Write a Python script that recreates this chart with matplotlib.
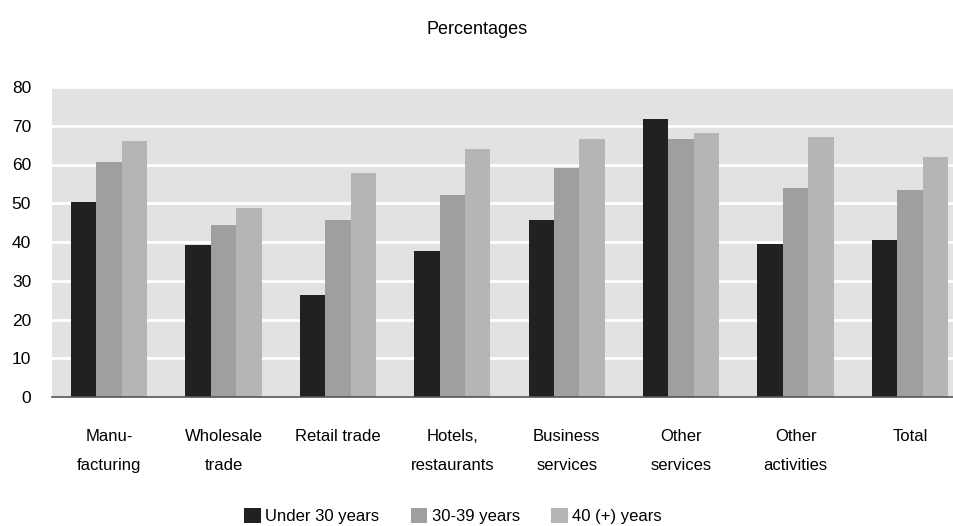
import numpy as np
import matplotlib.pyplot as plt

# Data
categories = ["Manu-\nfacturing", "Wholesale\ntrade", "Retail trade", "Hotels,\nrestaurants",
              "Business\nservices", "Other\nservices", "Other\nactivities", "Total"]
under_30 = [50.3, 39.2, 26.4, 37.7, 45.7, 71.7, 39.5, 40.5]
age_30_39 = [60.6, 44.4, 45.7, 52.1, 59.1, 66.5, 53.9, 53.4]
age_40_plus = [66.0, 48.8, 57.8, 63.9, 66.5, 68.1, 67.0, 61.9]
series_names = ["Under 30 years", "30-39 years", "40 (+) years"]
colors = ["#212121", "#9f9f9f", "#b5b5b5"]

plt.rcParams['font.family'] = ['Liberation Sans', 'DejaVu Sans']

fig = plt.figure(figsize=(9.54, 5.26), dpi=100)
ax = fig.add_axes([52 / 954, 1 - 397 / 526, 902 / 954, 310 / 526])
ax.set_facecolor("#e2e2e2")

x = np.arange(len(categories))
w = 0.222
for i, (vals, name, c) in enumerate(zip([under_30, age_30_39, age_40_plus], series_names, colors)):
    ax.bar(x + (i - 1) * w, vals, width=w, color=c, label=name, zorder=3)

ax.set_ylim(0, 80)
ax.set_xlim(-0.5, 7.385)
ax.set_yticks(range(0, 81, 10))
ax.yaxis.grid(True, color="white", linewidth=2, zorder=1)
ax.set_axisbelow(True)
for s in ["top", "right", "left"]:
    ax.spines[s].set_visible(False)
ax.spines["bottom"].set_color("#555555")
ax.spines["bottom"].set_linewidth(1.2)
ax.spines["bottom"].set_zorder(4)
ax.tick_params(length=0, labelsize=12.5)
ax.tick_params(axis="y", pad=15)
ax.tick_params(axis="x", pad=23)
ax.set_xticks(x)
ax.set_xticklabels(categories, linespacing=2.2, va="top", fontsize=12)

fig.text(0.5, 1 - 30 / 526, "Percentages", ha="center", va="center", fontsize=13)

fig.legend(loc="center", bbox_to_anchor=(453 / 954, 1 - 516 / 526), ncol=3, frameon=False,
           fontsize=12, handlelength=1.0, handleheight=1.0, handletextpad=0.25,
           columnspacing=1.9)

fig.savefig("out.png", dpi=100)
